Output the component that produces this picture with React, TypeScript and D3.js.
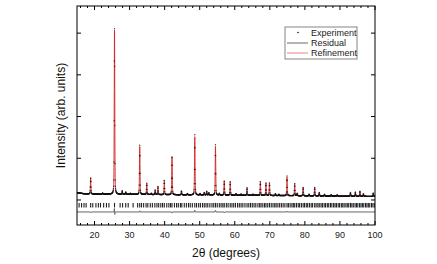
import React from "react";
import * as d3 from "d3";

const W = 437;
const H = 264;
const margin = { left: 77, right: 62, top: 6, bottom: 39 };

// Bragg peaks: 2θ position and height above background
const peakPos = [
  18.9, 22.3, 25.7, 27.9, 28.9, 30.2, 32.9, 34.9, 36.2, 37.3, 38.1, 39.9, 42.1, 44.8, 46.5,
  48.6, 50.1, 51.3, 52.0, 52.6, 54.5, 55.6, 57.0, 58.7, 60.4, 61.8, 63.5, 65.2, 67.3, 68.9,
  69.9, 71.6, 72.6, 74.9, 77.1, 77.8, 79.5, 81.2, 82.8, 84.1, 85.6, 87.5, 89.2, 93.0, 94.4,
  95.7, 96.7, 99.5,
];
const peakHeight = [
  390, 25, 3930, 85, 55, 25, 1150, 270, 30, 110, 195, 340, 915, 90, 30,
  1395, 30, 60, 90, 55, 1165, 40, 345, 320, 35, 30, 180, 30, 330, 300,
  300, 45, 30, 450, 290, 60, 200, 40, 200, 80, 40, 30, 30, 90, 100,
  120, 60, 80,
];

// background level
const bgPos = [15, 17, 20, 30, 40, 60, 80, 100];
const bgLevel = [175, 150, 142, 135, 128, 115, 100, 85];

// difference (obs - calc) spikes
const residPos = [18.9, 25.65, 25.78, 32.9, 42.1, 48.6, 54.5, 57.0, 74.9];
const residAmp = [-15, 90, -60, 30, -25, 45, 40, -20, 20];

// reflection markers
const reflections = [
  15.6, 16.3, 17.0, 17.6, 18.9, 19.5, 20.4, 21.1, 21.7, 22.6, 23.4, 24.1, 25.7, 27.3, 28.0,
  28.9, 29.6, 31.0, 32.3, 32.9, 33.4, 34.0, 34.7, 35.2, 35.9, 36.5, 37.2, 37.8, 38.3, 38.9,
  39.4, 39.9, 40.6, 41.2, 41.7, 42.1, 42.8, 43.4, 43.9, 44.5, 44.9, 45.6, 46.2, 46.8, 47.3,
  47.9, 48.6, 49.1, 49.7, 50.2, 50.8, 51.3, 51.8, 52.3, 52.9, 53.5, 54.0, 54.5, 55.0, 55.6,
  56.1, 56.6, 57.0, 57.6, 58.1, 58.7, 59.2, 59.7, 60.2, 60.8, 61.3, 61.8, 62.3, 62.9, 63.5,
  64.0, 64.5, 65.0, 65.5, 66.0, 66.6, 67.1, 67.5, 68.0, 68.5, 68.9, 69.4, 69.9, 70.4, 70.9,
  71.4, 71.8, 72.3, 72.8, 73.3, 73.8, 74.3, 74.9, 75.3, 75.8, 76.3, 76.7, 77.1, 77.6, 78.1,
  78.5, 79.0, 79.5, 79.9, 80.4, 80.8, 81.3, 81.8, 82.2, 82.8, 83.2, 83.7, 84.1, 84.6, 85.0,
  85.5, 85.9, 86.4, 86.8, 87.3, 87.7, 88.2, 88.6, 89.0, 89.5, 89.9, 90.4, 90.8, 91.2, 91.7,
  92.1, 92.5, 93.0, 93.4, 93.8, 94.3, 94.7, 95.1, 95.6, 96.0, 96.4, 96.8, 97.3, 97.7, 98.1,
  98.5, 99.0, 99.4, 99.8,
];

const xTickValues = [20, 30, 40, 50, 60, 70, 80, 90, 100];
const yTickValues = [0, 1000, 2000, 3000, 4000];
const legendLabels = ["Experiment", "Residual", "Refinement"];

const FWHM = 0.18;
const ETA = 0.4;
const RESID_OFFSET = -290;

const bg = d3.scaleLinear().domain(bgPos).range(bgLevel);

const calcAt = (t: number) => {
  let v = bg(t);
  for (let i = 0; i < peakPos.length; i++) {
    const u = (t - peakPos[i]) / FWHM;
    if (Math.abs(u) > 20) continue;
    const L = 1 / (1 + 4 * u * u);
    const G = Math.exp(-4 * Math.LN2 * u * u);
    v += peakHeight[i] * (ETA * L + (1 - ETA) * G);
  }
  return v;
};

const residAt = (t: number) => {
  let v = 0;
  for (let i = 0; i < residPos.length; i++) {
    const u = (t - residPos[i]) / 0.12;
    v += residAmp[i] * Math.exp(-4 * Math.LN2 * u * u);
  }
  return v;
};

export default function App() {
  const x = d3.scaleLinear().domain([15, 100]).range([margin.left, W - margin.right]);
  const y = d3.scaleLinear().domain([-600, 4650]).range([H - margin.bottom, margin.top]);

  const fineGrid = d3.range(15, 100.001, 0.01);
  const obsGrid = d3.range(15, 100.001, 0.05);

  const line = d3
    .line<[number, number]>()
    .x((d) => x(d[0]))
    .y((d) => y(d[1]));

  const calcPath = line(fineGrid.map((t) => [t, calcAt(t)]));
  const residPath = line(fineGrid.map((t) => [t, RESID_OFFSET + residAt(t)]));
  const obs = obsGrid.map((t) => [t, calcAt(t) + residAt(t)]);

  const x0 = margin.left;
  const x1 = W - margin.right;
  const y0 = margin.top;
  const y1 = H - margin.bottom;
  const minorTicks = d3.range(16, 100, 2).filter((v) => v % 10 !== 0);

  const font = "'Liberation Sans', Arial, sans-serif";
  const lx = 285;
  const ly = 27;

  return (
    <svg
      width={W}
      height={H}
      style={{ position: "absolute", left: 0, top: 0, background: "#fff" }}
      fontFamily={font}
    >
      <defs>
        <clipPath id="plot">
          <rect x={x0} y={y0} width={x1 - x0} height={y1 - y0} />
        </clipPath>
      </defs>

      <g clipPath="url(#plot)">
        {/* reflection markers */}
        {reflections.map((r, i) => (
          <line
            key={i}
            x1={x(r)}
            x2={x(r)}
            y1={y(-70)}
            y2={y(-180)}
            stroke="#222"
            strokeWidth={1.1}
          />
        ))}
        <path d={residPath ?? ""} fill="none" stroke="#444" strokeWidth={0.8} />
        <path d={calcPath ?? ""} fill="none" stroke="#d42020" strokeWidth={0.9} />
        {obs.map((d, i) => (
          <circle key={i} cx={x(d[0])} cy={y(d[1])} r={0.7} fill="#111" fillOpacity={0.8} />
        ))}
      </g>

      {/* frame */}
      <rect x={x0} y={y0} width={x1 - x0} height={y1 - y0} fill="none" stroke="#000" strokeWidth={1} />

      {/* x ticks */}
      {xTickValues.map((v) => (
        <g key={v}>
          <line x1={x(v)} x2={x(v)} y1={y1} y2={y1 - 4} stroke="#000" />
          <line x1={x(v)} x2={x(v)} y1={y0} y2={y0 + 4} stroke="#000" />
          <text x={x(v)} y={y1 + 13} fontSize={9} textAnchor="middle" fill="#222">
            {v}
          </text>
        </g>
      ))}
      {minorTicks.map((v) => (
        <g key={v}>
          <line x1={x(v)} x2={x(v)} y1={y1} y2={y1 - 2} stroke="#000" />
          <line x1={x(v)} x2={x(v)} y1={y0} y2={y0 + 2} stroke="#000" />
        </g>
      ))}

      {/* y ticks */}
      {yTickValues.map((v) => (
        <g key={v}>
          <line x1={x0} x2={x0 + 4} y1={y(v)} y2={y(v)} stroke="#000" />
          <line x1={x1} x2={x1 - 4} y1={y(v)} y2={y(v)} stroke="#000" />
        </g>
      ))}

      {/* axis titles */}
      <text x={(x0 + x1) / 2} y={257} fontSize={12} textAnchor="middle" fill="#111">
        2θ (degrees)
      </text>
      <text
        transform={`translate(65,${(y0 + y1) / 2}) rotate(-90)`}
        fontSize={12}
        textAnchor="middle"
        fill="#111"
      >
        Intensity (arb. units)
      </text>

      {/* legend */}
      <rect x={lx} y={ly} width={72} height={32} fill="#fff" stroke="#666" strokeWidth={0.8} />
      <circle cx={lx + 13} cy={ly + 5.5} r={0.8} fill="#111" />
      <line x1={lx + 2} x2={lx + 23} y1={ly + 16} y2={ly + 16} stroke="#444" strokeWidth={0.8} />
      <line x1={lx + 2} x2={lx + 23} y1={ly + 26} y2={ly + 26} stroke="#e06070" strokeWidth={0.8} />
      {legendLabels.map((s, i) => (
        <text key={s} x={lx + 26} y={ly + 8.5 + i * 10.2} fontSize={9} fill="#222">
          {s}
        </text>
      ))}
    </svg>
  );
}
